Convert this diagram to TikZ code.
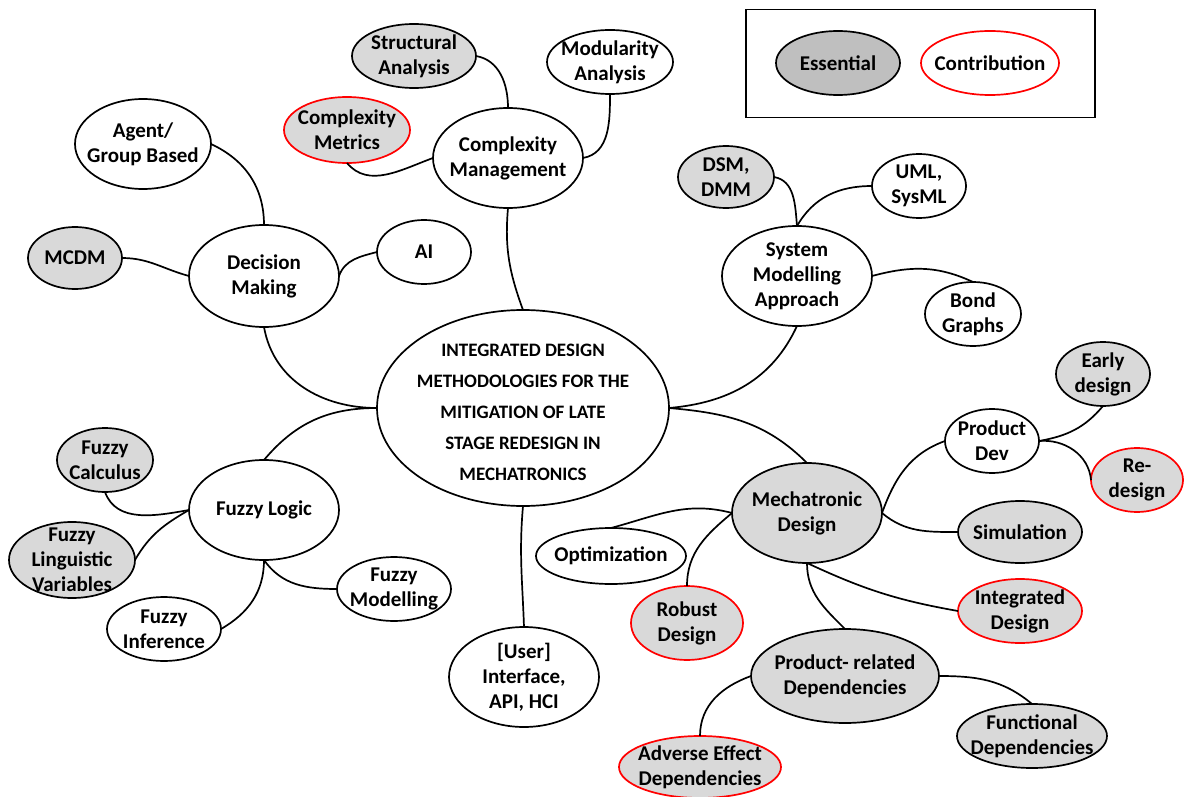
\documentclass[tikz,border=0pt]{standalone}
\usepackage{fontspec}
\setmainfont{Carlito}
\usetikzlibrary{shapes.geometric}
\definecolor{nodegray}{HTML}{D9D9D9}
\definecolor{keygray}{HTML}{BFBFBF}
\definecolor{contribred}{HTML}{FF0000}

\begin{document}
\begin{tikzpicture}[x=1pt,y=-1pt,
  bub/.style={ellipse, draw=black, line width=1.7pt, fill=white, inner sep=0pt, outer sep=0pt},
  ess/.style={bub, fill=nodegray},
  contrib/.style={draw=contribred},
  sz/.style 2 args={minimum width=#1, minimum height=#2},
  lbl/.style={align=center, inner sep=0pt, font=\bfseries\fontsize{21}{25}\selectfont},
  biglbl/.style={align=center, inner sep=0pt, font=\bfseries\fontsize{19}{31}\selectfont},
  link/.style={line width=1.7pt},
]
\useasboundingbox (0,0) rectangle (1184,797);

% key
\node[draw, line width=1.5pt, sz={349}{108}, inner sep=0pt, anchor=north west] (key) at (745,9) {};
\node[bub, fill=keygray, sz={124}{64}] (kess) at (838,63) {};
\node[lbl] (kess-t) at (kess) {Essential};
\node[bub, contrib, sz={138}{64}] (kcon) at (990,63) {};
\node[lbl] (kcon-t) at (kcon) {Contribution};

% central topic
\node[bub, sz={292}{196}] (ctr) at (523,408) {};
\node[biglbl] (ctr-t) at (523,412) {INTEGRATED DESIGN\\METHODOLOGIES FOR THE\\MITIGATION OF LATE\\STAGE REDESIGN IN\\MECHATRONICS};

% complexity branch
\node[bub, sz={150}{100}] (cm) at (508,158) {};
\node[lbl] (cm-t) at (cm) {Complexity\\Management};
\node[ess, sz={124}{64}] (sa) at (414,56) {};
\node[lbl] (sa-t) at (sa) {Structural\\Analysis};
\node[bub, sz={126}{64}] (mod) at (610,62) {};
\node[lbl] (mod-t) at (mod) {Modularity\\Analysis};
\node[ess, contrib, sz={126}{66}] (met) at (347,130) {};
\node[lbl] (met-t) at (met) {Complexity\\Metrics};

% decision branch
\node[bub, sz={150}{102}] (dm) at (264,276) {};
\node[lbl] (dm-t) at (dm) {Decision\\Making};
\node[bub, sz={136}{90}] (ag) at (143,144) {};
\node[lbl] (ag-t) at (ag) {Agent/\\Group Based};
\node[ess, sz={94}{62}] (mcdm) at (75,258) {};
\node[lbl] (mcdm-t) at (mcdm) {MCDM};
\node[bub, sz={94}{64}] (ai) at (424,252) {};
\node[lbl] (ai-t) at (ai) {AI};

% system modelling branch
\node[bub, sz={150}{100}] (sma) at (797,276) {};
\node[lbl] (sma-t) at (sma) {System\\Modelling\\Approach};
\node[ess, sz={96}{62}] (dsm) at (726,177) {};
\node[lbl] (dsm-t) at (dsm) {DSM,\\DMM};
\node[bub, sz={94}{64}] (uml) at (919,186) {};
\node[lbl] (uml-t) at (uml) {UML,\\SysML};
\node[bub, sz={96}{64}] (bond) at (973,314) {};
\node[lbl] (bond-t) at (bond) {Bond\\Graphs};

% fuzzy branch
\node[bub, sz={150}{100}] (fl) at (264,510) {};
\node[lbl] (fl-t) at (fl) {Fuzzy Logic};
\node[ess, sz={96}{64}] (fc) at (105,460) {};
\node[lbl] (fc-t) at (fc) {Fuzzy\\Calculus};
\node[ess, sz={126}{76}] (flv) at (72,560) {};
\node[lbl] (flv-t) at (flv) {Fuzzy\\Linguistic\\Variables};
\node[bub, sz={114}{64}] (fi) at (164,629) {};
\node[lbl] (fi-t) at (fi) {Fuzzy\\Inference};
\node[bub, sz={114}{64}] (fm) at (394,589) {};
\node[lbl] (fm-t) at (fm) {Fuzzy\\Modelling};

% interface
\node[bub, sz={150}{100}] (ui) at (524,677) {};
\node[lbl] (ui-t) at (ui) {[User]\\Interface,\\API, HCI};

% mechatronic branch
\node[ess, sz={150}{100}] (md) at (807,513) {};
\node[lbl] (md-t) at (md) {Mechatronic\\Design};
\node[bub, sz={150}{56}] (opt) at (611,556) {};
\node[lbl] (opt-t) at (opt) {Optimization};
\node[ess, contrib, sz={112}{74}] (rob) at (687,623) {};
\node[lbl] (rob-t) at (rob) {Robust\\Design};
\node[bub, sz={94}{64}] (pd) at (992,441) {};
\node[lbl] (pd-t) at (pd) {Product\\Dev};
\node[ess, sz={94}{64}] (ed) at (1103,374) {};
\node[lbl] (ed-t) at (ed) {Early\\design};
\node[ess, contrib, sz={92}{64}] (rd) at (1137,480) {};
\node[lbl] (rd-t) at (rd) {Re-\\design};
\node[ess, sz={124}{62}] (sim) at (1020,532) {};
\node[lbl] (sim-t) at (sim) {Simulation};
\node[ess, contrib, sz={124}{64}] (int) at (1020,611) {};
\node[lbl] (int-t) at (int) {Integrated\\Design};
\node[ess, sz={188}{94}] (prd) at (845,676) {};
\node[lbl] (prd-t) at (prd) {Product- related\\Dependencies};
\node[ess, sz={150}{64}] (fd) at (1032,736) {};
\node[lbl] (fd-t) at (fd) {Functional\\Dependencies};
\node[ess, contrib, sz={162}{62}] (adv) at (700,767) {};
\node[lbl] (adv-t) at (adv) {Adverse Effect\\Dependencies};

% connectors
\draw[link] (sa.east) to[out=-10, in=90] (cm.north);
\draw[link] (mod.south) to[out=-90, in=10] (cm.east);
\draw[link] (met.south) to[out=-50, in=200] (cm.west);
\draw[link] (cm.south) to[out=-95, in=110] (ctr.north);

\draw[link] (ag.east) to[out=-25, in=90] (dm.north);
\draw[link] (mcdm.east) to[out=0, in=165] (dm.west);
\draw[link] (dm.east) to[out=70, in=195] (ai.west);
\draw[link] (dm.south) to[out=-80, in=180] (ctr.west);

\draw[link] (ctr.east) to[out=5, in=-115] (sma.south);
\draw[link] (dsm.east) to[out=-10, in=95] (sma.north);
\draw[link] (uml.west) to[out=180, in=60] (sma.north);
\draw[link] (sma.east) to[out=15, in=155] (bond.north);

\draw[link] (ctr.west) to[out=180, in=50] (fl.north);
\draw[link] (fc.south) to[out=-70, in=190] (fl.west);
\draw[link] (flv.east) to[out=60, in=210] (fl.west);
\draw[link] (fl.south) to[out=-90, in=30] (fi.east);
\draw[link] (fl.south) to[out=-55, in=180] (fm.west);

\draw[link] (ctr.south) to[out=-95, in=92] (ui.north);

\draw[link] (ctr.east) to[out=-5, in=135] (md.north);
\draw[link] (md.west) to[out=165, in=15] (opt.north);
\draw[link] (md.west) to[out=-140, in=90] (rob.north);
\draw[link] (md.east) to[out=70, in=200] (pd.west);
\draw[link] (md.east) to[out=-40, in=180] (sim.west);
\draw[link] (md.south) to[out=-25, in=170] (int.west);
\draw[link] (md.south) to[out=-90, in=135] (prd.north);
\draw[link] (prd.west) to[out=200, in=90] (adv.north);
\draw[link] (prd.east) to[out=0, in=140] (fd.north);
\draw[link] (pd.east) to[out=10, in=-130] (ed.south);
\draw[link] (pd.east) to[out=5, in=95] (rd.west);
\end{tikzpicture}
\end{document}
